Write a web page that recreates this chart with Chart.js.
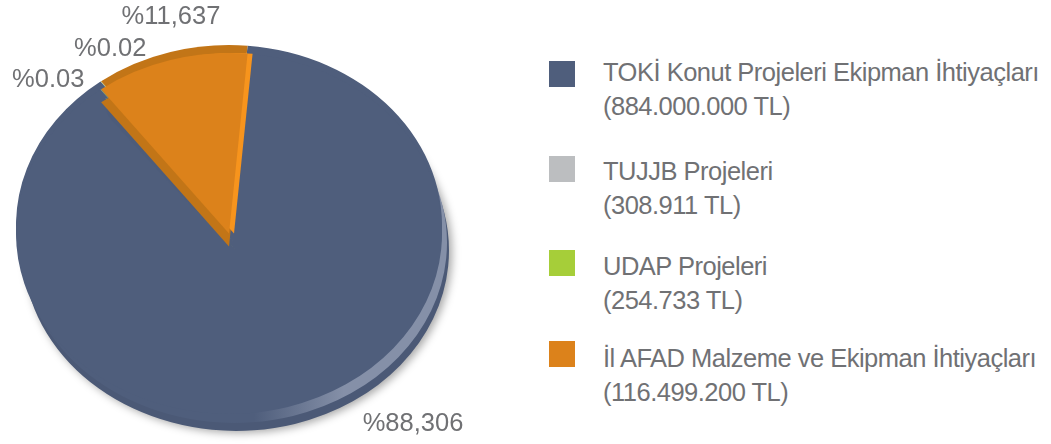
<!DOCTYPE html>
<html>
<head>
<meta charset="utf-8">
<script src="https://cdn.jsdelivr.net/npm/chart.js@4.4.0/dist/chart.umd.min.js"></script>
<style>
  html, body { margin: 0; padding: 0; background: #fff; }
  #wrap { position: relative; width: 1051px; height: 444px; overflow: hidden; }
  #pie { position: absolute; left: 0; top: 0; }
  .sw { position: absolute; left: 549px; width: 26px; height: 26px; }
  .txt { position: absolute; left: 603px; font-family: "Liberation Sans", Arial, sans-serif; font-size: 25.5px;
         line-height: 34px; color: #707174; letter-spacing: -0.5px; white-space: nowrap; }
</style>
</head>
<body>
<div id="wrap">
  <canvas id="pie" width="470" height="444"></canvas>
</div>
<script>
// --- data ---
const categories = ['TOKİ Konut Projeleri Ekipman İhtiyaçları', 'TUJJB Projeleri', 'UDAP Projeleri', 'İl AFAD Malzeme ve Ekipman İhtiyaçları'];
const amounts = [884000000, 308911, 254733, 116499200];
const amountLabels = ['(884.000.000 TL)', '(308.911 TL)', '(254.733 TL)', '(116.499.200 TL)'];
const percentLabels = ['%88,306', '%0.03', '%0.02', '%11,637'];
const colors = ['#4f5e7c', '#bcbec0', '#a6ce39', '#dc821b'];

// --- look ---
const tilt = 0.847;
const rimDark = ['#4b5976', '#b0b2b4', '#94b82f', '#c27517'];
const rimTop = ['#4f5e7c', '#b0b2b4', '#94b82f', '#c27517'];
// label spot per slice: [angle from 12 o'clock (deg), radius factor]
const labelSpots = [[140.7, 1.364], [-45, 1.20], [-28.6, 1.165], [-12.8, 1.23]];

// legend (html)
const swTops = [61, 156, 250, 341];
const txtTops = [55, 153.5, 248.5, 340.5];
const wrap = document.getElementById('wrap');
categories.forEach((c, i) => {
    const sw = document.createElement('div');
    sw.className = 'sw';
    sw.style.top = swTops[i] + 'px';
    sw.style.background = colors[i];
    wrap.appendChild(sw);
    const t = document.createElement('div');
    t.className = 'txt';
    t.style.top = txtTops[i] + 'px';
    t.innerHTML = c + '<br>' + amountLabels[i];
    wrap.appendChild(t);
});

const pie3d = {
    id: 'pie3d',
    beforeDatasetsDraw(chart) {
        const ctx = chart.ctx;
        const arcs = chart.getDatasetMeta(0).data;
        const cx = arcs[0].x, cy = arcs[0].y;

        const paint = (arc, dx, dy, fill, shadow) => {
            const saved = arc.options;
            arc.options = Object.assign({}, saved, { backgroundColor: fill });
            ctx.save();
            if (shadow) {
                ctx.shadowColor = 'rgba(0,0,0,0.35)';
                ctx.shadowBlur = 9;
                ctx.shadowOffsetX = 3;
                ctx.shadowOffsetY = 2;
            }
            ctx.translate(dx, dy);
            ctx.translate(cx, cy);
            ctx.scale(1, tilt);
            ctx.translate(-cx, -cy);
            arc.draw(ctx);
            ctx.restore();
            arc.options = saved;
        };

        // light band on the front wall, fading out to the left
        const g = ctx.createLinearGradient(cx + 20, 0, cx + 110, 0);
        g.addColorStop(0, '#4f5e7c');
        g.addColorStop(1, '#8590a8');

        // big + tiny slices first
        arcs.forEach((arc, i) => {
            if (i === 3) return;
            paint(arc, 7, 17, rimDark[i], true);
            paint(arc, 5, 9, i === 0 ? g : rimDark[i], false);
            paint(arc, 0, -8, rimTop[i], false);
            paint(arc, 0, 0, colors[i], false);
        });
        // orange slice on top
        const o = arcs[3];
        paint(o, 0, 13, rimDark[3], false);
        paint(o, 0, -8, rimTop[3], false);
        paint(o, 5, 0, '#f7941d', false);
        paint(o, 0, 0, colors[3], false);
        return false;
    },
    afterDraw(chart) {
        const ctx = chart.ctx;
        const arcs = chart.getDatasetMeta(0).data;
        const cx = arcs[0].x, cy = arcs[0].y, r = arcs[0].outerRadius;
        ctx.save();
        ctx.font = '25.5px "Liberation Sans", Arial, sans-serif';
        ctx.fillStyle = '#707174';
        ctx.textAlign = 'center';
        ctx.textBaseline = 'middle';
        percentLabels.forEach((txt, i) => {
            const a = labelSpots[i][0] * Math.PI / 180;
            const rr = r * labelSpots[i][1];
            ctx.fillText(txt, cx + rr * Math.sin(a), cy - rr * Math.cos(a) * tilt);
        });
        ctx.restore();
    }
};

new Chart(document.getElementById('pie'), {
    type: 'pie',
    data: {
        labels: categories,
        datasets: [{
            data: amounts,
            backgroundColor: colors,
            borderWidth: 0
        }]
    },
    options: {
        responsive: false,
        animation: false,
        events: [],
        rotation: 5,
        radius: 213,
        layout: { padding: { left: 0, right: 12, top: 23, bottom: 0 } },
        plugins: { legend: { display: false }, tooltip: { enabled: false } }
    },
    plugins: [pie3d]
});
</script>
</body>
</html>
